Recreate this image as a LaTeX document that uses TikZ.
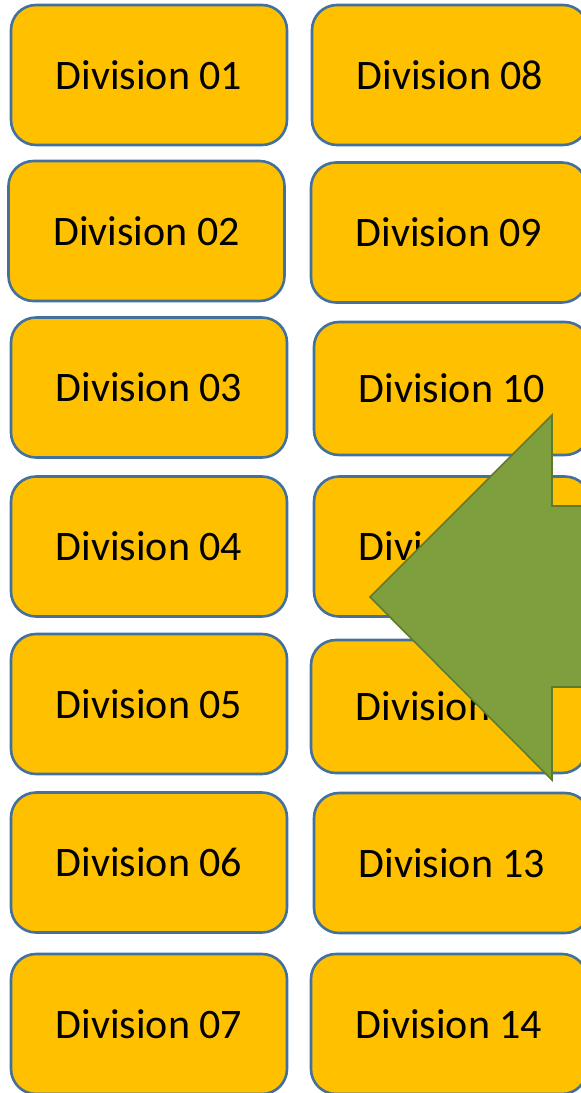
\documentclass[tikz,border=0pt]{standalone}
\usepackage{fontspec}
\setmainfont{Carlito}
\usepackage{xcolor}
\usetikzlibrary{positioning}

\definecolor{boxgold}{HTML}{FFC000}
\definecolor{boxedge}{HTML}{41719C}
\definecolor{arrowgreen}{HTML}{7F9F3F}
\definecolor{arrowedge}{HTML}{5E7B2C}

\begin{document}
\begin{tikzpicture}[
    x=0.5pt, y=-0.5pt,
    division/.style={
        draw=boxedge, line width=1.3pt, rounded corners=12.5pt,
        fill=boxgold, inner sep=0pt,
        minimum width=138pt, minimum height=70pt,
        font=\fontsize{21pt}{25pt}\selectfont
    },
    bigarrow/.style={
        fill=arrowgreen, draw=arrowedge, line width=0.8pt, line join=miter
    }
]
\useasboundingbox (0,0) rectangle (580,1093);

% Left column
\node[division] (div01) at (149,75)    {Division 01};
\node[division] (div02) at (146.5,231) {Division 02};
\node[division] (div03) at (149,387.5) {Division 03};
\node[division] (div04) at (149,546.5) {Division 04};
\node[division] (div05) at (149,704)   {Division 05};
\node[division] (div06) at (149,862.5) {Division 06};
\node[division] (div07) at (149,1024)  {Division 07};

% Right column
\node[division] (div08) at (450,75)    {Division 08};
\node[division] (div09) at (449,232.5) {Division 09};
\node[division, minimum height=66.5pt] (div10) at (452,388.5) {Division 10};
\node[division] (div11) at (452,546.5) {Division 11};
\node[division, minimum height=66.5pt] (div12) at (449,706.5) {Division 12};
\node[division] (div13) at (452,863)   {Division 13};
\node[division] (div14) at (449,1024)  {Division 14};

% Big left arrow over the right column
\draw[bigarrow] (370,597) -- (552,415) -- (552,506) -- (620,506)
    -- (620,687) -- (552,687) -- (552,780) -- cycle;

\end{tikzpicture}
\end{document}
